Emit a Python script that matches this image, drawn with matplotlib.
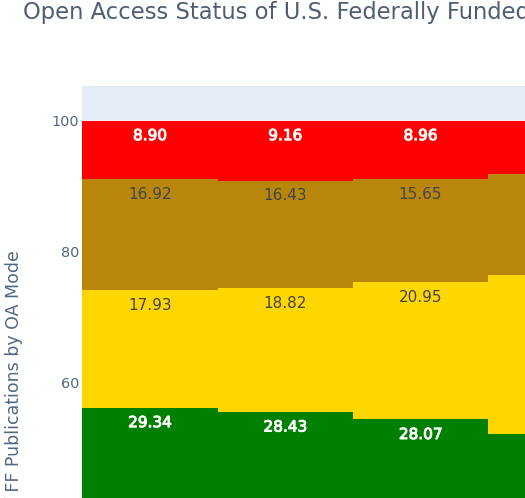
import matplotlib.pyplot as plt
import matplotlib.patheffects as pe
import numpy as np

plt.rcParams['font.family'] = ['DejaVu Sans']

# data (percent of FF publications per OA mode)
bars = ['2017', '2018', '2019', '2020']
closed = [26.91, 27.16, 26.37, 24.73]
green = [29.34, 28.43, 28.07, 27.50]
gold = [17.93, 18.82, 20.95, 24.19]
bronze = [16.92, 16.43, 15.65, 15.35]
red = [8.90, 9.16, 8.96, 8.23]

series = [closed, green, gold, bronze, red]
colors = ['#a9a9a9', '#008000', '#FFD700', '#B8860B', '#FF0000']
text_colors = ['#444444', 'white', '#444444', '#444444', 'white']
show_text = [False, True, True, True, True]

W, H = 525, 498
fig = plt.figure(figsize=(W / 100, H / 100), dpi=100)

# plot area continues past the right and bottom edges (cropped view)
top_px, left_px = 86, 82.3
bar_px = 135.3
ymax = 105.26
unit_px = 6.56
height_px = ymax * unit_px
ax = fig.add_axes([left_px / W, 1 - (top_px + height_px) / H,
                   4 * bar_px / W, height_px / H])
ax.set_facecolor('#E5ECF6')

x = np.arange(len(bars))
bottom = np.zeros(len(bars))
for vals, c, tc, st in zip(series, colors, text_colors, show_text):
    vals = np.array(vals)
    ax.bar(x, vals, width=1.0, bottom=bottom, color=c, linewidth=0, zorder=2)
    if st:
        for xi, b, v in zip(x, bottom, vals):
            t = ax.annotate('%.2f' % v, (xi, b + v), xytext=(0, -5.5),
                            textcoords='offset points', ha='center', va='top',
                            color=tc, fontsize=11, zorder=3)
            if tc == 'white':
                t.set_path_effects([pe.withStroke(linewidth=0.7, foreground='white')])
    bottom += vals

ax.set_xlim(-0.5, 3.5)
ax.set_ylim(0, ymax)
ax.set_yticks([0, 20, 40, 60, 80, 100])
ax.yaxis.grid(True, color='white', linewidth=1, zorder=0)
ax.set_xticks([])
ax.tick_params(axis='y', length=0, pad=2, labelsize=10.4, labelcolor='#506784')
for s in ax.spines.values():
    s.set_visible(False)

fig.text(23 / W, 1 - 18.5 / H,
         'Open Access Status of U.S. Federally Funded Publications',
         fontsize=16.3, color='#4f5d75', ha='left', va='baseline')
fig.text(14 / W, 1 - 250 / H,
         'Percentage of FF Publications by OA Mode',
         fontsize=12.5, color='#506784', rotation=90,
         ha='center', va='top')

fig.savefig('out.png', dpi=100)
